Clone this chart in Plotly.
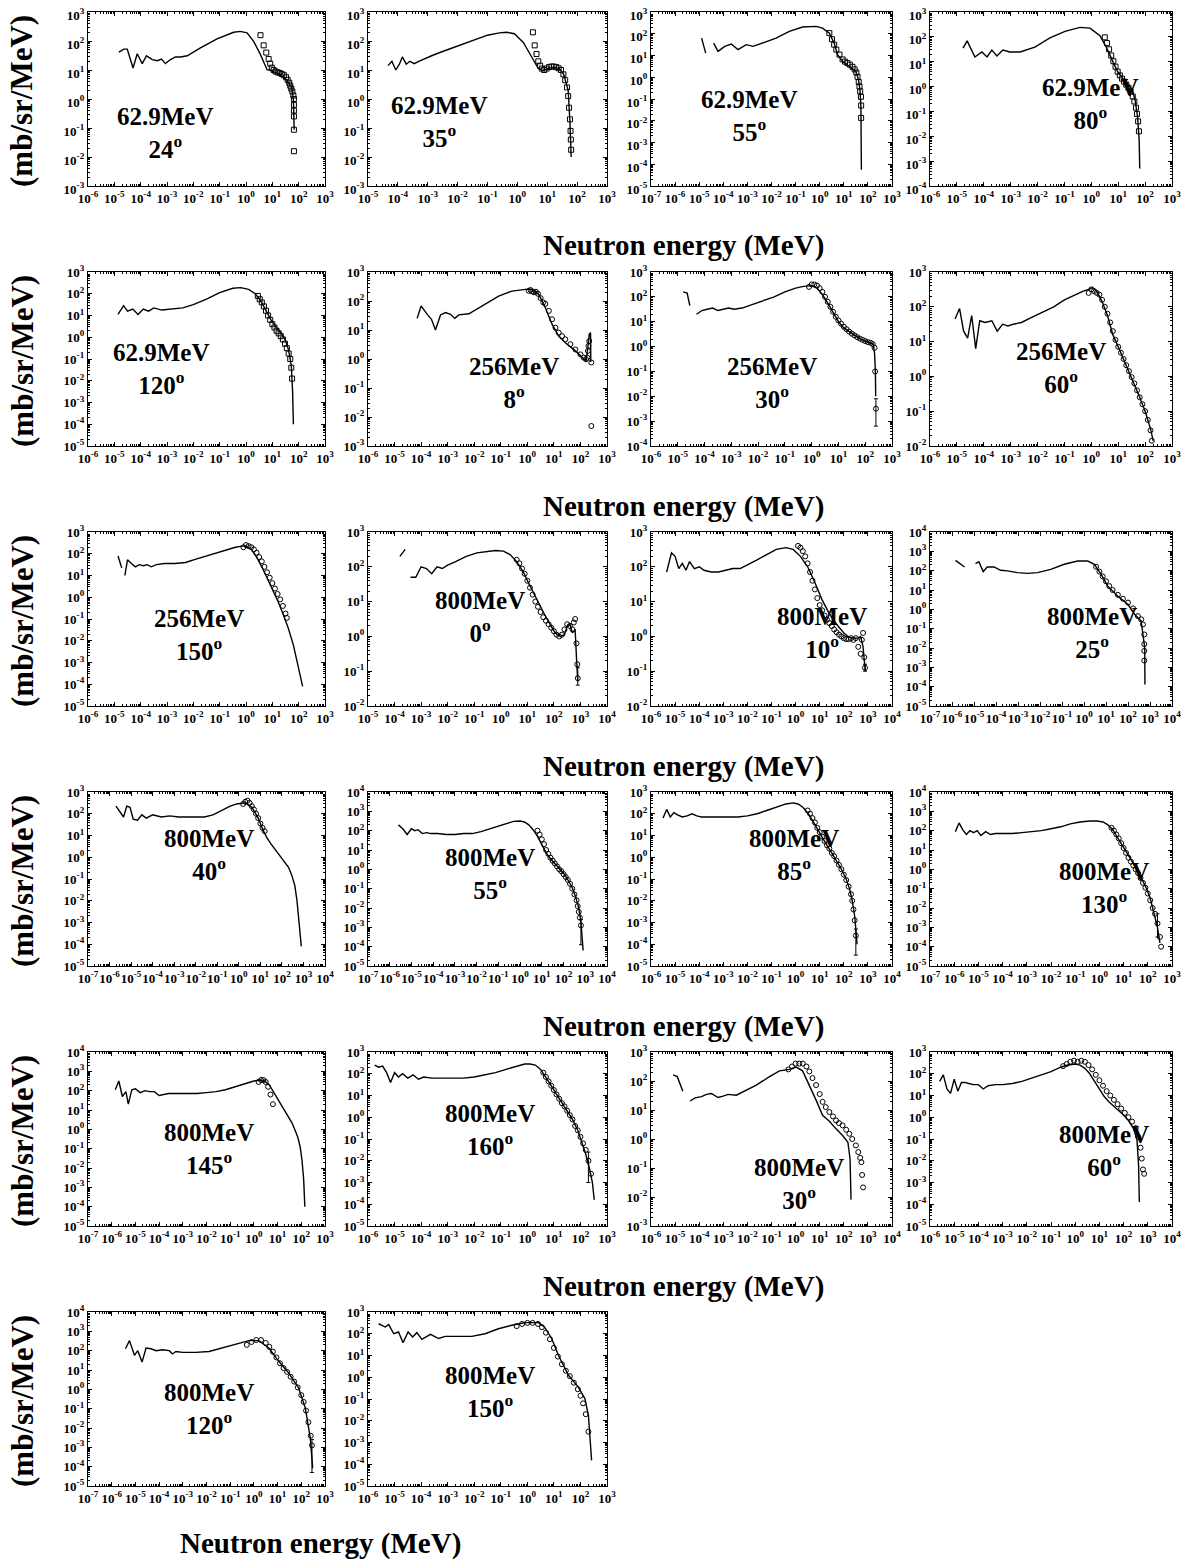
import plotly.graph_objects as go

FONT = "Liberation Serif"
PAGE_OFF = 8                      # default body margin of the html page
W, H = 1189 - PAGE_OFF, 1562 - PAGE_OFF

# ---------------- panel descriptions ----------------
panel_beam = ["62.9MeV"] * 5 + ["256MeV"] * 4 + ["800MeV"] * 13
panel_angle = ["24", "35", "55", "80", "120", "8", "30", "60", "150", "0", "10", "25",
               "40", "55", "85", "130", "145", "160", "30", "60", "120", "150"]
# axis ranges (decade exponents)
x_lo = [-6, -5, -7, -6, -6, -6, -6, -6, -6, -5, -6, -7, -7, -7, -6, -7, -7, -6, -6, -6, -7, -6]
x_hi = [3, 3, 3, 3, 3, 3, 3, 3, 3, 4, 4, 4, 4, 4, 4, 3, 3, 3, 4, 4, 3, 3]
y_lo = [-3, -3, -5, -4, -5, -3, -4, -2, -5, -2, -2, -5, -5, -5, -5, -5, -5, -5, -3, -5, -5, -5]
y_hi = [3, 3, 3, 3, 3, 3, 3, 3, 3, 3, 3, 4, 3, 4, 3, 4, 4, 3, 3, 3, 4, 3]

# ---------------- data (log10 E [MeV], log10 d2sigma [mb/sr/MeV]) ----------------
p1_calc_logE = [-4.83, -4.64, -4.51, -4.29, -4.13, -3.94, -3.78, -3.56, -3.37, -3.21, -3.06, -2.87, -2.68, -2.49, -2.23,
                -1.73, -1.10, -0.47, -0.22, 0.04, 0.29, 0.55, 0.80, 0.92, 1.10, 1.30, 1.55, 1.74, 1.80, 1.83]
p1_calc_logS = [1.62, 1.72, 1.72, 1.07, 1.56, 1.22, 1.49, 1.36, 1.32, 1.38, 1.22, 1.36, 1.45, 1.45, 1.49,
                1.76, 2.07, 2.30, 2.33, 2.28, 1.99, 1.53, 1.01, 0.99, 0.92, 0.84, 0.66, 0.38, -0.02, -1.06]
p1_exp_logE = [0.55, 0.67, 0.77, 0.86, 0.92, 0.98, 1.05, 1.12, 1.2, 1.28, 1.36, 1.44, 1.52, 1.58, 1.64, 1.68, 1.72,
               1.76, 1.8, 1.82, 1.82, 1.82, 1.82, 1.82, 1.82]
p1_exp_logS = [2.2, 1.85, 1.6, 1.38, 1.22, 1.08, 1.0, 0.95, 0.92, 0.9, 0.86, 0.82, 0.75, 0.66, 0.56, 0.46, 0.36,
               0.26, 0.12, 0.0, -0.2, -0.4, -0.6, -1.06, -1.8]

p2_calc_logE = [-4.33, -4.2, -4.07, -3.95, -3.85, -3.72, -3.6, -3.45, -3.3, -3.1, -2.85, -2.55, -2.2, -1.8, -1.4,
                -1.0, -0.6, -0.35, -0.1, 0.2, 0.45, 0.7, 0.85, 1.0, 1.2, 1.4, 1.55, 1.7, 1.76, 1.8]
p2_calc_logS = [1.15, 1.3, 1.0, 1.2, 1.45, 1.2, 1.3, 1.22, 1.3, 1.4, 1.5, 1.62, 1.75, 1.9, 2.05,
                2.2, 2.28, 2.3, 2.25, 1.95, 1.5, 1.05, 0.98, 1.05, 1.1, 1.05, 0.85, 0.3, -0.8, -2.0]
p2_exp_logE = [0.52, 0.58, 0.64, 0.7, 0.76, 0.82, 0.9, 0.98, 1.06, 1.14, 1.22, 1.3, 1.38, 1.46, 1.54, 1.6, 1.66,
               1.7, 1.73, 1.76, 1.78, 1.79, 1.8]
p2_exp_logS = [2.3, 1.85, 1.55, 1.3, 1.15, 1.05, 1.0, 1.05, 1.1, 1.12, 1.12, 1.1, 1.06, 1.0, 0.85, 0.65, 0.4,
               0.1, -0.3, -0.7, -1.1, -1.4, -1.75]

p3_calc_logE = [-4.9, -4.73, None, -4.40, -4.22, -3.94, -3.67, -3.39, -3.05, -2.77, -2.36, -1.81, -1.26, -0.71, -0.15,
                0.12, 0.40, 0.60, 0.74, 0.95, 1.22, 1.50, 1.61, 1.67, 1.71, 1.72, 1.73]
p3_calc_logS = [1.80, 1.11, None, 1.57, 1.19, 1.42, 1.53, 1.27, 1.50, 1.42, 1.57, 1.80, 2.11, 2.31, 2.34,
                2.26, 2.03, 1.57, 1.04, 0.73, 0.50, 0.27, -0.11, -0.57, -1.34, -2.56, -4.25]
p3_exp_logE = [0.40, 0.51, 0.60, 0.69, 0.82, 0.95, 1.05, 1.15, 1.25, 1.36, 1.45, 1.52, 1.57, 1.62, 1.65, 1.68, 1.71,
               1.72, 1.72]
p3_exp_logS = [2.03, 1.75, 1.5, 1.27, 1.04, 0.82, 0.72, 0.65, 0.58, 0.48, 0.36, 0.22, 0.02, -0.22, -0.42, -0.65, -0.9,
               -1.3, -1.87]

p4_calc_logE = [-4.77, -4.62, -4.33, -4.07, -3.88, -3.70, -3.51, -3.29, -3.03, -2.65, -2.10, -1.54, -0.98, -0.42,
                -0.05, 0.32, 0.55, 0.75, 0.95, 1.15, 1.35, 1.5, 1.62, 1.72, 1.78, 1.8]
p4_calc_logS = [1.55, 1.84, 1.19, 1.39, 1.19, 1.47, 1.23, 1.47, 1.39, 1.39, 1.59, 1.96, 2.22, 2.38,
                2.35, 2.05, 1.6, 1.1, 0.65, 0.35, 0.12, -0.1, -0.5, -1.2, -2.2, -3.3]
p4_exp_logE = [0.5, 0.58, 0.66, 0.74, 0.82, 0.9, 0.98, 1.06, 1.14, 1.22, 1.3, 1.38, 1.46, 1.54, 1.6, 1.66, 1.7,
               1.74, 1.77]
p4_exp_logS = [1.98, 1.75, 1.5, 1.25, 1.02, 0.8, 0.6, 0.45, 0.32, 0.2, 0.08, -0.05, -0.2, -0.4, -0.6, -0.85, -1.1,
               -1.4, -1.8]

p5_calc_logE = [-4.86, -4.65, -4.5, -4.3, -4.1, -3.9, -3.7, -3.5, -3.2, -2.8, -2.4, -2.0, -1.5, -1.0, -0.5, -0.2,
                0.1, 0.35, 0.55, 0.75, 0.95, 1.15, 1.35, 1.5, 1.62, 1.72, 1.77, 1.8]
p5_calc_logS = [1.05, 1.45, 1.2, 1.3, 1.05, 1.3, 1.2, 1.35, 1.25, 1.3, 1.35, 1.5, 1.75, 2.05, 2.25, 2.28,
                2.2, 2.0, 1.7, 1.25, 0.8, 0.45, 0.15, -0.15, -0.6, -1.3, -2.5, -4.0]
p5_exp_logE = [0.45, 0.52, 0.6, 0.68, 0.76, 0.84, 0.92, 1.0, 1.08, 1.16, 1.24, 1.32, 1.4, 1.48, 1.55, 1.62, 1.68,
               1.72, 1.75]
p5_exp_logS = [1.9, 1.75, 1.6, 1.42, 1.22, 1.0, 0.8, 0.6, 0.45, 0.3, 0.18, 0.05, -0.1, -0.3, -0.5, -0.75, -1.0,
               -1.4, -1.9]

p6_calc_logE = [-4.15, -4.0, -3.77, -3.61, -3.46, -3.27, -3.08, -2.89, -2.73, -2.58, -2.2, -1.83, -1.45, -1.08, -0.58,
                -0.07, 0.18, 0.43, 0.68, 0.93, 1.18, 1.43, 1.81, 2.06, 2.21, 2.28, 2.33, 2.38, 2.39]
p6_calc_logS = [1.40, 1.83, 1.54, 1.37, 1.0, 1.52, 1.6, 1.54, 1.40, 1.52, 1.56, 1.77, 1.98, 2.17, 2.34,
                2.40, 2.40, 2.23, 1.77, 1.20, 0.79, 0.56, 0.28, 0.05, -0.07, 0.39, 0.85, 0.91, -0.1]
p6_exp_logE = [0.05, 0.12, 0.18, 0.25, 0.32, 0.4, 0.5, 0.6, 0.68, 0.81, 0.93, 1.06, 1.18, 1.31, 1.43, 1.62, 1.81,
               2.0, 2.12, 2.21, 2.26, 2.28, 2.30, 2.33, 2.41, 2.41]
p6_exp_logS = [2.35, 2.38, 2.33, 2.3, 2.32, 2.25, 2.1, 1.95, 1.9, 1.66, 1.37, 1.08, 0.91, 0.79, 0.68, 0.51, 0.33,
               0.16, 0.05, -0.01, 0.05, 0.28, 0.45, 0.62, -0.12, -2.31]

p7_calc_logE = [-4.8, -4.65, -4.55, None, -4.3, -4.1, -3.9, -3.7, -3.5, -3.3, -3.1, -2.9, -2.6, -2.2, -1.8, -1.4,
                -1.0, -0.6, -0.3, 0.0, 0.2, 0.4, 0.6, 0.8, 1.0, 1.2, 1.4, 1.6, 1.8, 2.0, 2.2, 2.3, 2.35, 2.38, 2.39]
p7_calc_logS = [2.2, 2.15, 1.65, None, 1.3, 1.45, 1.5, 1.55, 1.45, 1.5, 1.55, 1.5, 1.55, 1.7, 1.85, 2.0,
                2.2, 2.35, 2.42, 2.45, 2.35, 2.1, 1.75, 1.35, 1.0, 0.75, 0.6, 0.45, 0.32, 0.22, 0.15, 0.1, -0.3, -1.0, -2.0]
p7_exp_logE = [-0.1, 0.0, 0.1, 0.2, 0.3, 0.4, 0.5, 0.6, 0.7, 0.8, 0.9, 1.0, 1.1, 1.2, 1.3, 1.4, 1.5, 1.6, 1.7, 1.8,
               1.9, 2.0, 2.1, 2.2, 2.28, 2.35, 2.37]
p7_exp_logS = [2.4, 2.5, 2.5, 2.45, 2.35, 2.2, 2.0, 1.8, 1.6, 1.4, 1.2, 1.05, 0.92, 0.8, 0.7, 0.6, 0.52, 0.45, 0.38,
               0.32, 0.27, 0.22, 0.18, 0.15, 0.1, -0.05, -1.0]

p8_calc_logE = [-5.07, -4.9, -4.75, -4.6, -4.45, -4.3, -4.15, -3.95, -3.7, -3.5, -3.3, -3.1, -2.9, -2.6, -2.2, -1.8,
                -1.4, -1.0, -0.6, -0.3, -0.1, 0.05, 0.2, 0.4, 0.6, 0.8, 1.0, 1.2, 1.4, 1.6, 1.8, 2.0, 2.2, 2.3]
p8_calc_logS = [1.65, 1.95, 1.3, 1.1, 1.75, 0.8, 1.6, 1.55, 1.6, 1.3, 1.5, 1.45, 1.5, 1.55, 1.7, 1.85,
                2.0, 2.2, 2.35, 2.45, 2.5, 2.55, 2.45, 2.15, 1.75, 1.2, 0.85, 0.5, 0.15, -0.2, -0.6, -1.0, -1.5, -1.85]
p8_exp_logE = [-0.1, 0.0, 0.1, 0.2, 0.3, 0.4, 0.5, 0.6, 0.7, 0.8, 0.9, 1.0, 1.1, 1.2, 1.3, 1.4, 1.5, 1.6, 1.7, 1.8,
               1.9, 2.0, 2.1, 2.2, 2.25]
p8_exp_logS = [2.4, 2.5, 2.45, 2.4, 2.35, 2.2, 2.0, 1.8, 1.55, 1.3, 1.05, 0.85, 0.68, 0.5, 0.32, 0.15, -0.02, -0.2,
               -0.4, -0.6, -0.8, -1.0, -1.25, -1.55, -1.85]

p9_calc_logE = [-4.86, -4.72, None, -4.6, -4.5, -4.35, -4.2, -4.05, -3.9, -3.75, -3.6, -3.4, -3.1, -2.7, -2.3, -1.9,
                -1.5, -1.1, -0.7, -0.4, -0.15, 0.0, 0.2, 0.4, 0.6, 0.8, 1.0, 1.2, 1.4, 1.6, 1.8, 1.95, 2.05, 2.15]
p9_calc_logS = [1.9, 1.35, None, 1.0, 1.72, 1.55, 1.4, 1.5, 1.45, 1.5, 1.4, 1.5, 1.55, 1.55, 1.6, 1.75,
                1.9, 2.05, 2.2, 2.3, 2.35, 2.35, 2.2, 1.85, 1.4, 0.9, 0.4, -0.15, -0.75, -1.4, -2.2, -3.0, -3.6, -4.1]
p9_exp_logE = [-0.1, 0.0, 0.1, 0.2, 0.3, 0.4, 0.5, 0.6, 0.7, 0.8, 0.9, 1.0, 1.1, 1.2, 1.3, 1.4, 1.5, 1.55]
p9_exp_logS = [2.3, 2.4, 2.35, 2.3, 2.2, 2.05, 1.85, 1.65, 1.4, 1.15, 0.9, 0.65, 0.4, 0.15, -0.1, -0.4, -0.75, -0.95]

p10_calc_logE = [-3.8, -3.6, None, -3.4, -3.2, -3.0, -2.8, -2.6, -2.4, -2.2, -2.0, -1.7, -1.3, -0.9, -0.5, -0.2, 0.1,
                 0.35, 0.6, 0.85, 1.1, 1.35, 1.6, 1.85, 2.05, 2.25, 2.4, 2.5, 2.6, 2.7, 2.8, 2.85, 2.9]
p10_calc_logS = [2.3, 2.5, None, 1.7, 1.7, 2.0, 1.95, 1.8, 2.0, 1.95, 2.05, 2.15, 2.3, 2.4, 2.45, 2.47, 2.45,
                 2.35, 2.15, 1.85, 1.45, 1.05, 0.7, 0.35, 0.1, 0.0, 0.05, 0.3, 0.35, 0.1, 0.2, -0.6, -1.3]
p10_exp_logE = [0.6, 0.7, 0.8, 0.9, 1.0, 1.1, 1.2, 1.3, 1.4, 1.5, 1.6, 1.7, 1.8, 1.9, 2.0, 2.1, 2.2, 2.3, 2.4, 2.5,
                2.6, 2.7, 2.75, 2.8, 2.85, 2.88]
p10_exp_logS = [2.2, 2.1, 1.95, 1.8, 1.6, 1.4, 1.2, 1.0, 0.85, 0.7, 0.55, 0.45, 0.35, 0.25, 0.15, 0.05, 0.0, 0.05,
                0.2, 0.35, 0.3, 0.2, 0.4, 0.5, -0.2, -0.8]

p11_calc_logE = [-5.35, -5.15, -5.0, -4.85, -4.7, -4.55, -4.4, -4.2, -4.0, -3.8, -3.5, -3.2, -2.9, -2.6, -2.3, -2.0,
                 -1.6, -1.2, -0.8, -0.4, -0.1, 0.2, 0.5, 0.8, 1.1, 1.4, 1.7, 2.0, 2.2, 2.4, 2.6, 2.7, 2.8, 2.85, 2.9]
p11_calc_logS = [1.85, 2.4, 2.3, 1.95, 2.1, 1.9, 2.15, 1.95, 2.0, 1.9, 1.85, 1.85, 1.9, 1.95, 1.95, 2.05,
                 2.2, 2.35, 2.5, 2.55, 2.5, 2.3, 2.0, 1.55, 1.05, 0.65, 0.35, 0.1, -0.02, -0.05, -0.05, 0.0, -0.3, -0.7, -1.0]
p11_exp_logE = [0.1, 0.2, 0.3, 0.4, 0.5, 0.6, 0.7, 0.8, 0.9, 1.0, 1.1, 1.2, 1.3, 1.4, 1.5, 1.6, 1.7, 1.8, 1.9, 2.0,
                2.1, 2.2, 2.3, 2.4, 2.5, 2.6, 2.7, 2.75, 2.8, 2.85]
p11_exp_logS = [2.6, 2.55, 2.45, 2.3, 2.1, 1.85, 1.6, 1.35, 1.1, 0.9, 0.75, 0.6, 0.48, 0.38, 0.3, 0.2, 0.12, 0.05,
                0.0, -0.05, -0.08, -0.08, -0.05, -0.1, -0.05, -0.3, -0.5, -0.1, 0.1, -0.6]

p12_calc_logE = [-5.84, -5.43, None, -4.93, -4.78, -4.58, -4.40, -4.09, -3.79, -3.48, -3.03, -2.57, -2.11,
                 -1.51, -0.90, -0.29, 0.17, 0.47, 0.78, 1.08, 1.54, 2.0, 2.30, 2.60, 2.76, 2.77]
p12_calc_logS = [2.53, 2.19, None, 2.36, 2.46, 1.95, 2.19, 2.19, 2.02, 1.99, 1.90, 1.86, 1.90,
                 2.07, 2.33, 2.50, 2.50, 2.33, 1.81, 1.20, 0.68, 0.25, -0.26, -0.61, -2.0, -3.89]
p12_exp_logE = [0.55, 0.7, 0.85, 1.0, 1.15, 1.3, 1.54, 1.77, 2.0, 2.23, 2.45, 2.6, 2.68, 2.74, 2.74, 2.74, 2.74]
p12_exp_logS = [2.2, 1.95, 1.7, 1.45, 1.2, 1.0, 0.75, 0.55, 0.35, 0.05, -0.35, -0.52, -0.78, -1.3, -1.8, -2.15, -2.65]

p13_calc_logE = [-5.7, -5.5, -5.35, -5.2, -5.05, -4.9, -4.7, -4.5, -4.3, -4.0, -3.6, -3.2, -2.8, -2.4, -2.0, -1.6,
                 -1.2, -0.8, -0.4, -0.1, 0.15, 0.3, 0.45, 0.6, 0.75, 0.9, 1.1, 1.3, 1.5, 1.7, 1.9, 2.1, 2.3, 2.45,
                 2.6, 2.7, 2.8, 2.9]
p13_calc_logS = [2.35, 2.05, 1.85, 2.35, 2.3, 1.75, 1.7, 1.95, 1.8, 1.95, 1.85, 1.9, 1.85, 1.85, 1.85, 1.85,
                 1.95, 2.15, 2.35, 2.45, 2.5, 2.5, 2.4, 2.3, 2.05, 1.8, 1.3, 0.9, 0.6, 0.35, 0.1, -0.15, -0.45, -0.8,
                 -1.3, -2.0, -2.9, -4.1]
p13_exp_logE = [0.2, 0.3, 0.4, 0.5, 0.6, 0.7, 0.8, 0.9, 1.0, 1.1, 1.2]
p13_exp_logS = [2.45, 2.55, 2.6, 2.5, 2.35, 2.2, 2.0, 1.8, 1.55, 1.35, 1.2]

p14_calc_logE = [-5.6, -5.4, -5.2, -5.0, -4.85, -4.7, -4.5, -4.3, -4.1, -3.8, -3.4, -3.0, -2.6, -2.2, -1.8, -1.4,
                 -1.0, -0.6, -0.3, 0.0, 0.2, 0.4, 0.6, 0.8, 1.0, 1.2, 1.4, 1.6, 1.8, 2.0, 2.2, 2.4, 2.55, 2.7, 2.8,
                 2.85, 2.9]
p14_calc_logS = [2.3, 2.1, 1.8, 2.1, 2.0, 2.05, 1.85, 1.9, 1.85, 1.85, 1.8, 1.8, 1.85, 1.85, 1.95, 2.1,
                 2.25, 2.4, 2.48, 2.5, 2.45, 2.3, 2.05, 1.7, 1.25, 0.85, 0.55, 0.3, 0.05, -0.2, -0.55, -0.95, -1.4,
                 -2.0, -2.7, -3.3, -4.2]
p14_exp_logE = [0.8, 0.9, 1.0, 1.1, 1.2, 1.3, 1.4, 1.5, 1.6, 1.7, 1.8, 1.9, 2.0, 2.1, 2.2, 2.3, 2.4, 2.5, 2.6, 2.65,
                2.7, 2.75]
p14_exp_logS = [2.0, 1.8, 1.55, 1.3, 1.0, 0.8, 0.6, 0.45, 0.3, 0.15, 0.0, -0.1, -0.25, -0.4, -0.55, -0.75, -1.0,
                -1.3, -1.6, -1.9, -2.2, -2.5]

p15_calc_logE = [-5.5, -5.35, -5.2, -5.05, -4.9, -4.7, -4.5, -4.3, -4.1, -3.9, -3.6, -3.2, -2.8, -2.4, -2.0, -1.6,
                 -1.2, -0.8, -0.4, -0.1, 0.1, 0.3, 0.5, 0.7, 0.9, 1.1, 1.3, 1.5, 1.7, 1.9, 2.1, 2.25, 2.35, 2.45,
                 2.5, 2.55]
p15_calc_logS = [1.8, 2.2, 1.85, 2.05, 1.95, 1.85, 1.9, 2.0, 1.9, 1.85, 1.85, 1.85, 1.85, 1.85, 1.9, 2.0,
                 2.15, 2.3, 2.45, 2.5, 2.45, 2.3, 2.05, 1.7, 1.3, 0.9, 0.55, 0.2, -0.15, -0.55, -1.0, -1.5, -2.0,
                 -2.7, -3.3, -4.0]
p15_exp_logE = [0.5, 0.6, 0.7, 0.8, 0.9, 1.0, 1.1, 1.2, 1.3, 1.4, 1.5, 1.6, 1.7, 1.8, 1.9, 2.0, 2.1, 2.2, 2.3, 2.35,
                2.4, 2.45]
p15_exp_logS = [2.15, 2.0, 1.8, 1.6, 1.35, 1.15, 0.95, 0.75, 0.55, 0.4, 0.2, 0.05, -0.15, -0.35, -0.55, -0.8, -1.05,
                -1.35, -1.7, -2.0, -2.4, -2.9]

p16_calc_logE = [-5.95, -5.8, -5.65, -5.5, -5.35, -5.2, -5.05, -4.9, -4.7, -4.5, -4.3, -4.0, -3.6, -3.2, -2.8, -2.4,
                 -2.0, -1.6, -1.2, -0.8, -0.4, -0.1, 0.15, 0.35, 0.55, 0.75, 0.95, 1.15, 1.35, 1.55, 1.75, 1.95,
                 2.1, 2.25, 2.4, 2.5]
p16_calc_logS = [1.95, 2.4, 2.05, 1.8, 2.0, 1.9, 2.0, 1.75, 1.95, 1.8, 1.85, 1.85, 1.85, 1.9, 1.95, 2.0,
                 2.1, 2.2, 2.35, 2.45, 2.5, 2.5, 2.45, 2.3, 2.05, 1.65, 1.2, 0.8, 0.4, 0.0, -0.5, -1.0,
                 -1.5, -2.2, -3.0, -3.8]
p16_exp_logE = [0.5, 0.6, 0.7, 0.8, 0.9, 1.0, 1.1, 1.2, 1.3, 1.4, 1.5, 1.6, 1.7, 1.8, 1.9, 2.0, 2.1, 2.2, 2.3,
                2.5, 2.55]
p16_exp_logS = [2.15, 2.0, 1.8, 1.6, 1.35, 1.1, 0.85, 0.6, 0.4, 0.2, 0.0, -0.2, -0.45, -0.7, -0.95, -1.25, -1.6,
                -2.0, -2.3, -3.5, -4.0]

p17_calc_logE = [-5.85, -5.7, -5.55, -5.4, -5.3, -5.15, -5.0, -4.8, -4.6, -4.4, -4.2, -4.0, -3.6, -3.2, -2.8, -2.4,
                 -2.0, -1.6, -1.2, -0.8, -0.4, 0.0, 0.25, 0.45, 0.65, 0.85, 1.05, 1.25, 1.45, 1.6, 1.72, 1.85,
                 1.95, 2.03, 2.1, 2.15]
p17_calc_logS = [2.05, 2.5, 1.7, 1.95, 1.3, 2.05, 2.1, 1.9, 2.0, 1.95, 1.95, 1.75, 1.85, 1.85, 1.85, 1.85,
                 1.9, 1.95, 2.05, 2.2, 2.35, 2.5, 2.55, 2.5, 2.3, 1.9, 1.45, 1.05, 0.7, 0.35, 0.0, -0.4,
                 -0.9, -1.6, -2.6, -4.0]
p17_exp_logE = [0.2, 0.3, 0.4, 0.5, 0.6, 0.7, 0.8]
p17_exp_logS = [2.45, 2.55, 2.55, 2.45, 2.2, 1.8, 1.3]

p18_calc_logE = [-5.75, -5.6, -5.45, -5.3, -5.15, -5.0, -4.85, -4.7, -4.5, -4.3, -4.1, -3.9, -3.6, -3.2, -2.8, -2.4,
                 -2.0, -1.6, -1.2, -0.8, -0.4, -0.1, 0.1, 0.3, 0.5, 0.7, 0.9, 1.1, 1.3, 1.5, 1.7, 1.9, 2.05, 2.2,
                 2.35, 2.45, 2.52]
p18_calc_logS = [2.4, 2.3, 2.35, 2.05, 1.6, 2.05, 1.85, 2.0, 1.8, 1.95, 1.75, 1.85, 1.8, 1.8, 1.8, 1.8,
                 1.85, 1.95, 2.05, 2.2, 2.35, 2.45, 2.45, 2.4, 2.2, 1.85, 1.45, 1.05, 0.65, 0.3, -0.1, -0.6, -1.1,
                 -1.7, -2.4, -3.0, -3.8]
p18_exp_logE = [0.6, 0.7, 0.8, 0.9, 1.0, 1.1, 1.2, 1.3, 1.4, 1.5, 1.6, 1.7, 1.8, 1.9, 2.0, 2.1, 2.2, 2.4]
p18_exp_logS = [2.05, 1.85, 1.65, 1.45, 1.25, 1.05, 0.85, 0.65, 0.5, 0.3, 0.1, -0.1, -0.4, -0.6, -0.9, -1.2, -1.5,
                -2.6]

p19_calc_logE = [-5.08, -4.91, -4.68, None, -4.38, -4.17, -3.90, -3.70, -3.49, -3.22, -3.01, -2.80, -2.46, -2.05,
                 -1.63, -1.08, -0.67, -0.26, 0.02, 0.29, 0.57, 0.85, 1.12, 1.40, 1.68, 1.95, 2.17, 2.26, 2.30]
p19_calc_logS = [2.21, 2.15, 1.65, None, 1.31, 1.42, 1.46, 1.54, 1.57, 1.43, 1.48, 1.54, 1.51, 1.69,
                 1.86, 2.15, 2.35, 2.40, 2.48, 2.35, 1.86, 1.34, 0.82, 0.61, 0.35, 0.12, -0.11, -0.69, -2.09]
p19_exp_logE = [-0.3, -0.15, 0.0, 0.15, 0.3, 0.45, 0.57, 0.7, 0.85, 1.0, 1.12, 1.25, 1.4, 1.55, 1.68, 1.8, 1.95,
                2.1, 2.23, 2.35, 2.5, 2.6, 2.68, 2.73, 2.76, 2.8]
p19_exp_logS = [2.4, 2.5, 2.6, 2.6, 2.6, 2.5, 2.33, 2.1, 1.86, 1.55, 1.28, 1.1, 0.93, 0.78, 0.64, 0.55, 0.47,
                0.32, 0.18, 0.0, -0.22, -0.45, -0.65, -0.8, -1.24, -1.67]

p20_calc_logE = [-5.6, -5.45, -5.3, -5.15, -5.0, -4.85, -4.7, -4.55, -4.4, -4.2, -4.0, -3.8, -3.6, -3.3, -3.0, -2.6,
                 -2.2, -1.8, -1.4, -1.0, -0.6, -0.3, 0.0, 0.2, 0.4, 0.6, 0.8, 1.0, 1.2, 1.4, 1.6, 1.8, 2.0, 2.2,
                 2.4, 2.55, 2.62, 2.65]
p20_calc_logS = [1.65, 1.95, 1.3, 1.1, 1.75, 1.2, 1.6, 1.6, 1.55, 1.5, 1.5, 1.3, 1.45, 1.5, 1.5, 1.55,
                 1.65, 1.8, 1.95, 2.1, 2.3, 2.4, 2.45, 2.4, 2.25, 2.0, 1.65, 1.3, 0.95, 0.7, 0.5, 0.3, 0.1, -0.15,
                 -0.5, -1.0, -2.2, -3.9]
p20_exp_logE = [-0.5, -0.35, -0.2, -0.05, 0.1, 0.25, 0.4, 0.55, 0.7, 0.85, 1.0, 1.15, 1.3, 1.45, 1.6, 1.75, 1.9,
                2.05, 2.2, 2.35, 2.5, 2.6, 2.7, 2.75, 2.8, 2.85]
p20_exp_logS = [2.35, 2.45, 2.55, 2.6, 2.55, 2.6, 2.55, 2.4, 2.2, 1.95, 1.7, 1.45, 1.2, 1.0, 0.8, 0.6, 0.4,
                0.2, 0.0, -0.2, -0.5, -0.9, -1.4, -1.9, -2.4, -2.6]

p21_calc_logE = [-5.42, -5.25, -5.04, -4.90, -4.72, -4.55, -4.34, -4.13, -3.85, -3.57, -3.44, -3.29, -3.01, -2.45,
                 -1.89, -1.33, -0.77, -0.21, 0.21, 0.63, 1.05, 1.47, 1.89, 2.17, 2.38, 2.48]
p21_calc_logS = [2.10, 2.52, 1.76, 2.0, 1.41, 2.14, 2.10, 2.0, 2.05, 2.0, 1.83, 1.96, 1.91, 1.91,
                 1.96, 2.14, 2.34, 2.52, 2.52, 2.14, 1.45, 0.84, 0.06, -0.97, -2.53, -4.08]
p21_exp_logE = [-0.3, -0.1, 0.1, 0.3, 0.5, 0.65, 0.8, 0.95, 1.1, 1.25, 1.4, 1.55, 1.7, 1.85, 2.0, 2.1, 2.2, 2.3,
                2.4]
p21_exp_logS = [2.3, 2.45, 2.55, 2.55, 2.4, 2.2, 1.95, 1.65, 1.35, 1.1, 0.9, 0.65, 0.4, 0.1, -0.3, -0.65, -1.1,
                -1.7, -2.4]

p22_calc_logE = [-5.60, -5.35, -5.22, -5.03, -4.85, -4.68, -4.49, -4.32, -4.16, -3.97, -3.65, -3.34, -3.09, -2.59,
                 -2.09, -1.59, -1.09, -0.59, -0.08, 0.42, 0.65, 0.92, 1.17, 1.55, 1.92, 2.17, 2.30, 2.42]
p22_calc_logS = [2.46, 2.31, 2.42, 2.0, 2.08, 1.59, 2.08, 1.85, 2.05, 1.74, 1.97, 1.78, 1.88, 1.88,
                 1.88, 2.0, 2.23, 2.39, 2.51, 2.51, 2.3, 1.77, 1.01, 0.09, -0.45, -0.99, -1.75, -3.82]
p22_exp_logE = [-0.4, -0.2, 0.0, 0.2, 0.4, 0.55, 0.7, 0.85, 1.0, 1.15, 1.3, 1.45, 1.6, 1.75, 1.9, 2.0, 2.1, 2.2, 2.3]
p22_exp_logS = [2.35, 2.45, 2.5, 2.5, 2.45, 2.3, 2.05, 1.75, 1.35, 0.95, 0.6, 0.3, 0.05, -0.25, -0.55, -0.85, -1.2,
                -1.7, -2.5]

# points with error bars: panel number, log10 E, log10 value, log10 lower end, log10 upper end
err_panel = [7, 10, 11, 14, 15, 16, 18, 21]
err_logE = [2.4, 2.9, 2.88, 2.8, 2.5, 2.4, 2.3, 2.45]
err_logS = [-2.5, -1.2, -0.9, -2.9, -3.6, -2.8, -2.0, -2.9]
err_logLo = [-3.2, -1.4, -1.0, -3.9, -4.5, -3.5, -3.0, -4.3]
err_logHi = [-2.1, -0.9, -0.8, -2.6, -3.3, -2.3, -1.6, -2.6]

calc_logE = [p1_calc_logE, p2_calc_logE, p3_calc_logE, p4_calc_logE, p5_calc_logE, p6_calc_logE, p7_calc_logE,
             p8_calc_logE, p9_calc_logE, p10_calc_logE, p11_calc_logE, p12_calc_logE, p13_calc_logE, p14_calc_logE,
             p15_calc_logE, p16_calc_logE, p17_calc_logE, p18_calc_logE, p19_calc_logE, p20_calc_logE,
             p21_calc_logE, p22_calc_logE]
calc_logS = [p1_calc_logS, p2_calc_logS, p3_calc_logS, p4_calc_logS, p5_calc_logS, p6_calc_logS, p7_calc_logS,
             p8_calc_logS, p9_calc_logS, p10_calc_logS, p11_calc_logS, p12_calc_logS, p13_calc_logS, p14_calc_logS,
             p15_calc_logS, p16_calc_logS, p17_calc_logS, p18_calc_logS, p19_calc_logS, p20_calc_logS,
             p21_calc_logS, p22_calc_logS]
exp_logE = [p1_exp_logE, p2_exp_logE, p3_exp_logE, p4_exp_logE, p5_exp_logE, p6_exp_logE, p7_exp_logE,
            p8_exp_logE, p9_exp_logE, p10_exp_logE, p11_exp_logE, p12_exp_logE, p13_exp_logE, p14_exp_logE,
            p15_exp_logE, p16_exp_logE, p17_exp_logE, p18_exp_logE, p19_exp_logE, p20_exp_logE,
            p21_exp_logE, p22_exp_logE]
exp_logS = [p1_exp_logS, p2_exp_logS, p3_exp_logS, p4_exp_logS, p5_exp_logS, p6_exp_logS, p7_exp_logS,
            p8_exp_logS, p9_exp_logS, p10_exp_logS, p11_exp_logS, p12_exp_logS, p13_exp_logS, p14_exp_logS,
            p15_exp_logS, p16_exp_logS, p17_exp_logS, p18_exp_logS, p19_exp_logS, p20_exp_logS,
            p21_exp_logS, p22_exp_logS]

# ---------------- layout (page pixels) ----------------
col_px = [(88, 325), (368, 607), (651, 892), (930, 1172)]
row_top = [12 + 260 * r for r in range(6)]
PH = 174
lab_x = [0.325, 0.30, 0.41, 0.665, 0.31, 0.61, 0.50, 0.54, 0.47, 0.47, 0.71, 0.67,
         0.51, 0.51, 0.595, 0.72, 0.51, 0.51, 0.615, 0.72, 0.51, 0.51]
lab_y = [0.305, 0.37, 0.40, 0.47, 0.44, 0.36, 0.36, 0.45, 0.41, 0.51, 0.42, 0.42,
         0.64, 0.53, 0.64, 0.45, 0.44, 0.55, 0.24, 0.43, 0.44, 0.54]


def px_x(p):
    return (p - PAGE_OFF) / W


def px_y(p):
    return 1 - (p - PAGE_OFF) / H


def pw(vals):
    return [None if v is None else 10 ** v for v in vals]


def dec_label(k):
    return "10<sup>%d</sup>" % k


fig = go.Figure()
layout = {}
annotations = []
tfont = dict(family=FONT, size=13, color="black", weight="bold")

for i in range(22):
    r, c = divmod(i, 4)
    n = i + 1
    sfx = "" if n == 1 else str(n)
    x0, x1 = col_px[c]
    xd = [px_x(x0), px_x(x1)]
    yd = [px_y(row_top[r] + PH), px_y(row_top[r])]
    xk = list(range(x_lo[i], x_hi[i] + 1))
    yk = list(range(y_lo[i], y_hi[i] + 1))
    x_minor = [m * 10 ** k for k in range(x_lo[i], x_hi[i]) for m in range(2, 10)]
    y_minor = [m * 10 ** k for k in range(y_lo[i], y_hi[i]) for m in range(2, 10)]
    common = dict(type="log", showgrid=False, zeroline=False, showline=True, linecolor="black", linewidth=1.4,
                  mirror="allticks", ticks="inside", ticklen=4, tickwidth=1, tickcolor="black",
                  tickfont=tfont, tickangle=0, tickmode="array", automargin=False, ticklabeloverflow="allow")
    layout["xaxis" + sfx] = dict(common, domain=xd, anchor="y" + sfx, range=[x_lo[i], x_hi[i]],
                                 tickvals=[10 ** k for k in xk], ticktext=[dec_label(k) for k in xk],
                                 minor=dict(tickmode="array", tickvals=x_minor, ticks="inside", ticklen=2,
                                            tickwidth=1, tickcolor="black", showgrid=False))
    layout["yaxis" + sfx] = dict(common, domain=yd, anchor="x" + sfx, range=[y_lo[i], y_hi[i]],
                                 tickvals=[10 ** k for k in yk], ticktext=[dec_label(k) for k in yk],
                                 ticklabelshift=(3 if r == 0 else 0),
                                 minor=dict(tickmode="array", tickvals=y_minor, ticks="inside", ticklen=2,
                                            tickwidth=1, tickcolor="black", showgrid=False))
    fig.add_trace(go.Scatter(x=pw(calc_logE[i]), y=pw(calc_logS[i]), mode="lines",
                             line=dict(color="black", width=1.4), connectgaps=False,
                             xaxis="x" + sfx, yaxis="y" + sfx, showlegend=False, hoverinfo="skip"))
    sym = "square-open" if panel_beam[i] == "62.9MeV" else "circle-open"
    fig.add_trace(go.Scatter(x=pw(exp_logE[i]), y=pw(exp_logS[i]), mode="markers",
                             marker=dict(symbol=sym, size=5, color="black", line=dict(width=1, color="black")),
                             xaxis="x" + sfx, yaxis="y" + sfx, showlegend=False, hoverinfo="skip"))
    annotations.append(dict(text="%s<br>%s<sup>o</sup>" % (panel_beam[i], panel_angle[i]),
                            xref="x%s domain" % sfx, yref="y%s domain" % sfx, x=lab_x[i], y=lab_y[i],
                            xanchor="center", yanchor="middle", showarrow=False,
                            font=dict(family=FONT, size=25, color="black", weight="bold")))

for j in range(len(err_panel)):
    sfx = "" if err_panel[j] == 1 else str(err_panel[j])
    v = 10 ** err_logS[j]
    fig.add_trace(go.Scatter(x=[10 ** err_logE[j]], y=[v], mode="markers",
                             marker=dict(symbol="circle-open", size=5, color="black", line=dict(width=1)),
                             error_y=dict(type="data", symmetric=False, array=[10 ** err_logHi[j] - v],
                                          arrayminus=[v - 10 ** err_logLo[j]], color="black", thickness=1, width=2),
                             xaxis="x" + sfx, yaxis="y" + sfx, showlegend=False, hoverinfo="skip"))

for r in range(6):
    annotations.append(dict(text="(mb/sr/MeV)", xref="paper", yref="paper", x=px_x(22), y=px_y(101 + 260 * r),
                            xanchor="center", yanchor="middle", textangle=-90, showarrow=False,
                            font=dict(family=FONT, size=31, color="black", weight="bold")))
title_pos = [(683, 246), (683, 506), (683, 766), (683, 1026), (683, 1286), (320, 1543)]
for (tx, ty) in title_pos:
    annotations.append(dict(text="Neutron energy (MeV)", xref="paper", yref="paper", x=px_x(tx), y=px_y(ty),
                            xanchor="center", yanchor="middle", showarrow=False,
                            font=dict(family=FONT, size=29, color="black", weight="bold")))

fig.update_layout(width=W, height=H, autosize=False,
                  margin=dict(l=0, r=0, t=0, b=0, pad=0, autoexpand=False),
                  paper_bgcolor="white", plot_bgcolor="white", annotations=annotations, **layout)
fig.write_html("out.html")
